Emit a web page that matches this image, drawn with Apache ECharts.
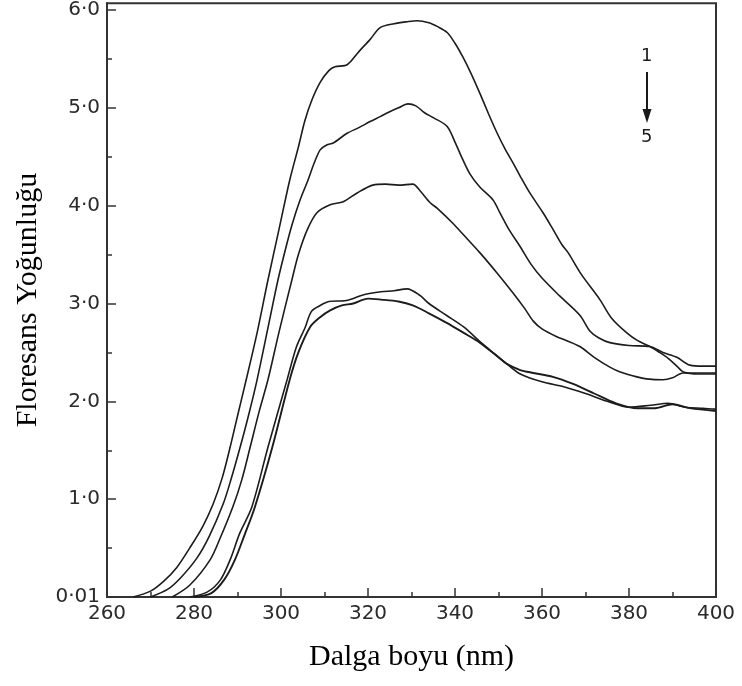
<!DOCTYPE html>
<html>
<head>
<meta charset="utf-8">
<script src="https://cdn.jsdelivr.net/npm/echarts@6/dist/echarts.min.js"></script>
<style>
  html, body { margin: 0; padding: 0; background: #fff; }
  #chart { width: 742px; height: 686px; }
</style>
</head>
<body>
<div id="chart"></div>
<script>
// ---- data ----
const xTicks = [260, 280, 300, 320, 340, 360, 380, 400];
const yTickValues = [0, 1, 2, 3, 4, 5, 6];
const yTickLabels = ['0·01', '1·0', '2·0', '3·0', '4·0', '5·0', '6·0'];
const yMinorValues = [0.5, 1.5, 2.5, 3.5, 4.5, 5.5];

const wl1 = [266, 270, 273, 276, 279, 282, 284.4, 286.5, 288.3, 290, 292, 294.5, 297, 299.5, 302, 304, 305.5, 307.1, 309, 311, 312.4, 315.2, 318, 320.5, 322.8, 326, 329, 331.3, 334, 336, 338.2, 340, 341.8, 343.7, 345.7, 347.7, 349.7, 351.5, 353.3, 355, 357.2, 360.2, 362.5, 364.6, 366, 369, 373.3, 376, 379.5, 382, 384.8, 387, 389, 391, 392.5, 396, 400];
const f1  = [0.0, 0.06, 0.16, 0.3, 0.5, 0.72, 0.95, 1.22, 1.53, 1.85, 2.22, 2.7, 3.24, 3.75, 4.26, 4.6, 4.87, 5.08, 5.26, 5.38, 5.42, 5.44, 5.58, 5.7, 5.82, 5.86, 5.88, 5.89, 5.87, 5.83, 5.77, 5.66, 5.52, 5.35, 5.15, 4.94, 4.74, 4.58, 4.44, 4.3, 4.13, 3.93, 3.76, 3.6, 3.52, 3.3, 3.04, 2.85, 2.7, 2.62, 2.56, 2.5, 2.44, 2.36, 2.3, 2.28, 2.28];

const wl2 = [270, 274, 277, 280.7, 283.5, 286.7, 288.5, 290.6, 292.5, 294.5, 297, 299.3, 301, 302.5, 304.4, 306.2, 307.5, 309, 310.5, 312, 315.2, 318, 320.5, 322.8, 325, 327, 329.2, 331, 333, 335, 338.2, 340, 341.8, 343.5, 345.7, 348.7, 350.3, 352.5, 355, 357.5, 360, 364, 368.7, 371, 373, 375.6, 380, 384.8, 387.8, 391, 394, 397, 400];
const f2  = [0.0, 0.08, 0.2, 0.4, 0.62, 0.95, 1.2, 1.53, 1.85, 2.22, 2.75, 3.24, 3.55, 3.8, 4.06, 4.26, 4.42, 4.57, 4.62, 4.64, 4.74, 4.8, 4.86, 4.91, 4.96, 5.0, 5.04, 5.02, 4.95, 4.9, 4.81, 4.65, 4.47, 4.32, 4.19, 4.06, 3.93, 3.75, 3.58, 3.4, 3.26, 3.08, 2.88, 2.72, 2.65, 2.6, 2.57, 2.56, 2.5, 2.45, 2.37, 2.36, 2.36];

const wl3 = [275, 279, 283.7, 286, 289, 291, 292.9, 295, 297, 299.5, 302.5, 304, 306, 308.3, 311.3, 314.3, 317.5, 321.1, 324, 327, 330.3, 332, 334.3, 336, 339.5, 342, 345.7, 349.7, 353.3, 356, 358, 360, 363.4, 365.7, 368.7, 372, 375.6, 378, 381.8, 384, 387.8, 390, 392.4, 396, 400];
const f3  = [0.0, 0.12, 0.38, 0.6, 0.93, 1.2, 1.53, 1.9, 2.22, 2.7, 3.24, 3.5, 3.75, 3.93, 4.01, 4.04, 4.13, 4.21, 4.22, 4.21, 4.22, 4.15, 4.03, 3.97, 3.82, 3.7, 3.52, 3.31, 3.11, 2.95, 2.82, 2.74, 2.66, 2.62, 2.56, 2.45, 2.35, 2.3, 2.25, 2.23, 2.22, 2.24, 2.29, 2.29, 2.29];

const wl4 = [279, 283, 286, 288.3, 290.5, 293.3, 297, 301.4, 303.5, 305.5, 307, 309, 311, 315, 319, 323, 326, 329, 332, 334, 338, 342, 346, 349, 352, 355, 360, 365, 370, 375, 380, 385, 389, 393, 397, 400];
const f4  = [0.0, 0.05, 0.17, 0.38, 0.65, 0.92, 1.53, 2.22, 2.55, 2.75, 2.92, 2.98, 3.02, 3.03, 3.09, 3.12, 3.13, 3.15, 3.08, 3.0, 2.88, 2.76, 2.6, 2.49, 2.38, 2.28, 2.2, 2.15, 2.08, 2.0, 1.94, 1.96, 1.98, 1.94, 1.93, 1.92];

const wl5 = [280, 284, 287, 289.4, 291.5, 294, 298, 302, 304, 306.7, 309, 311.3, 314, 316.6, 320, 323, 327, 330.3, 334, 338.2, 342, 345.7, 349.7, 352, 355, 358, 362.5, 367, 372, 377, 382, 386, 390, 394, 400];
const f5  = [0.0, 0.04, 0.18, 0.38, 0.62, 0.92, 1.53, 2.22, 2.5, 2.76, 2.86, 2.93, 2.98, 3.0, 3.05, 3.04, 3.02, 2.98, 2.9, 2.8, 2.7, 2.6, 2.46, 2.38, 2.32, 2.29, 2.25, 2.18, 2.08, 1.98, 1.93, 1.93, 1.97, 1.93, 1.9];

const curves = [[wl1, f1], [wl2, f2], [wl3, f3], [wl4, f4], [wl5, f5]];

// ---- chart ----
const chart = echarts.init(document.getElementById('chart'), null, { renderer: 'canvas' });
const ink = '#1c1c1c';
const tickFont = { fontFamily: 'DejaVu Sans', fontSize: 20, color: '#2a2a2a' };

const series = curves.map(([wl, f], i) => ({
  type: 'line',
  xAxisIndex: 0,
  yAxisIndex: 0,
  data: wl.map((w, j) => [w, f[j]]),
  showSymbol: false,
  smooth: 0.3,
  lineStyle: { color: ink, width: i === 4 ? 1.9 : 1.6 },
  silent: true
}));

chart.setOption({
  animation: false,
  backgroundColor: '#fff',
  grid: {
    left: 107, right: 26, top: 3, bottom: 89,
    show: true, borderColor: '#333', borderWidth: 2, backgroundColor: 'transparent'
  },
  xAxis: [{
    type: 'value', min: 260, max: 400, interval: 20,
    name: 'Dalga boyu (nm)', nameLocation: 'middle', nameGap: 45,
    nameTextStyle: { fontFamily: 'Liberation Serif', fontSize: 30, color: '#000' },
    axisLine: { show: true, lineStyle: { color: '#333', width: 2 } },
    axisTick: { show: true, inside: true, length: 9, lineStyle: { color: '#333', width: 1.5 } },
    minorTick: { show: true, splitNumber: 2, length: 5, lineStyle: { color: '#333', width: 1.5 } },
    axisLabel: Object.assign({ margin: 7, formatter: v => String(v) }, tickFont),
    splitLine: { show: false }, minorSplitLine: { show: false }
  }],
  yAxis: [{
    type: 'value', min: 0, max: 6.07,
    name: 'Floresans Yoğunluğu', nameLocation: 'middle', nameGap: 64, nameRotate: 90,
    nameTextStyle: { fontFamily: 'Liberation Serif', fontSize: 30, color: '#000' },
    axisLine: { show: true, lineStyle: { color: '#333', width: 2 } },
    axisTick: { show: true, inside: true, length: 9, customValues: yTickValues, lineStyle: { color: '#333', width: 1.5 } },
    axisLabel: Object.assign({
      margin: 7, customValues: yTickValues,
      formatter: v => { const k = yTickValues.indexOf(Math.round(v * 100) / 100); return k >= 0 ? yTickLabels[k] : ''; }
    }, tickFont),
    splitLine: { show: false }
  }, {
    type: 'value', min: 0, max: 6.07, position: 'left', offset: 0,
    axisLine: { show: false },
    axisTick: { show: true, inside: true, length: 5, customValues: yMinorValues, lineStyle: { color: '#333', width: 1.5 } },
    axisLabel: { show: false },
    splitLine: { show: false }
  }],
  graphic: [
    { type: 'text', left: 641, top: 47, style: { text: '1', font: '18px "DejaVu Sans"', fill: '#1a1a1a' } },
    { type: 'line', shape: { x1: 647, y1: 72, x2: 647, y2: 112 }, style: { stroke: '#1a1a1a', lineWidth: 2 } },
    { type: 'polygon', shape: { points: [[642.5, 109], [651.5, 109], [647, 123]] }, style: { fill: '#1a1a1a' } },
    { type: 'text', left: 641, top: 128, style: { text: '5', font: '18px "DejaVu Sans"', fill: '#1a1a1a' } }
  ],
  series: series
});
</script>
</body>
</html>
